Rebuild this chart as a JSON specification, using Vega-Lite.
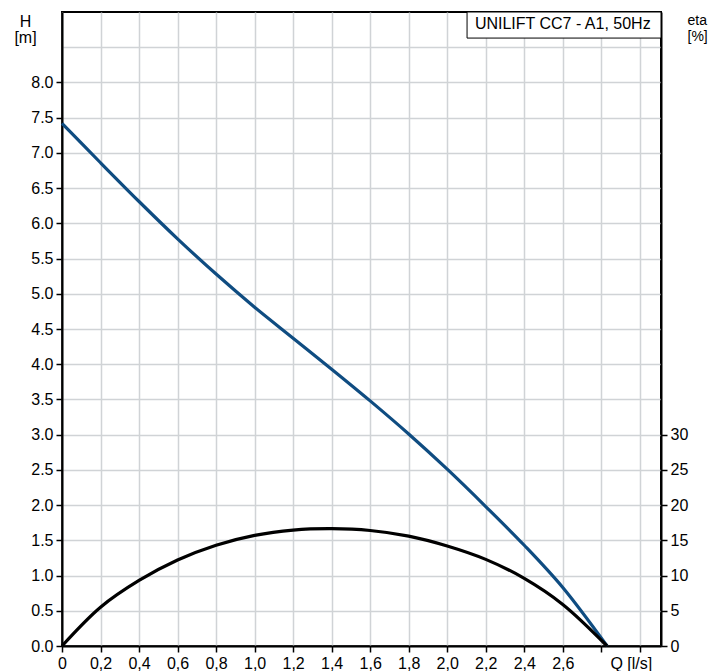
{
  "$schema": "https://vega.github.io/schema/vega-lite/v6.json",
  "autosize": {"type": "none"},
  "width": 599,
  "height": 634,
  "padding": {"left": 62, "top": 12, "right": 49, "bottom": 25},
  "background": "white",
  "datasets": {
    "head": [
      {"Q": 0, "H": 7.42}, {"Q": 0.2, "H": 6.86}, {"Q": 0.4, "H": 6.31},
      {"Q": 0.6, "H": 5.78}, {"Q": 0.8, "H": 5.28}, {"Q": 1.0, "H": 4.81},
      {"Q": 1.2, "H": 4.37}, {"Q": 1.4, "H": 3.93}, {"Q": 1.6, "H": 3.48},
      {"Q": 1.8, "H": 3.01}, {"Q": 2.0, "H": 2.51}, {"Q": 2.2, "H": 1.98},
      {"Q": 2.4, "H": 1.43}, {"Q": 2.6, "H": 0.83}, {"Q": 2.83, "H": 0}
    ],
    "eta": [
      {"Q": 0, "eta": 0}, {"Q": 0.2, "eta": 5.5},
      {"Q": 0.4, "eta": 9.3}, {"Q": 0.6, "eta": 12.2}, {"Q": 0.8, "eta": 14.3},
      {"Q": 1.0, "eta": 15.7}, {"Q": 1.2, "eta": 16.45}, {"Q": 1.4, "eta": 16.65},
      {"Q": 1.6, "eta": 16.4}, {"Q": 1.8, "eta": 15.6}, {"Q": 2.0, "eta": 14.2},
      {"Q": 2.2, "eta": 12.3}, {"Q": 2.4, "eta": 9.6}, {"Q": 2.6, "eta": 5.9},
      {"Q": 2.83, "eta": 0}
    ],
    "caption": [{"label": "UNILIFT CC7 - A1, 50Hz"}]
  },
  "layer": [
    {
      "layer": [
        {
          "data": {"name": "head"},
          "mark": {"type": "line", "color": "#0f4c81", "strokeWidth": 3.2, "interpolate": "catmull-rom"},
          "encoding": {
            "x": {
              "field": "Q", "type": "quantitative",
              "scale": {"domain": [0, 3.11], "nice": false, "zero": false},
              "axis": {
                "values": [0, 0.2, 0.4, 0.6, 0.8, 1.0, 1.2, 1.4, 1.6, 1.8, 2.0, 2.2, 2.4, 2.6, 2.8, 3.0],
                "labelExpr": "datum.value > 2.9 ? 'Q [l/s]' : datum.value > 2.7 ? '' : datum.value == 0 ? '0' : replace(format(datum.value, '.1f'), '.', ',')",
                "labelOffset": {"condition": {"test": "datum.value > 2.9", "value": -9}, "value": 0},
                "title": null
              }
            },
            "y": {
              "field": "H", "type": "quantitative",
              "scale": {"domain": [0, 9], "nice": false},
              "axis": {
                "values": [0, 0.5, 1, 1.5, 2, 2.5, 3, 3.5, 4, 4.5, 5, 5.5, 6, 6.5, 7, 7.5, 8, 8.5],
                "labelExpr": "datum.value > 8.2 ? '' : format(datum.value, '.1f')",
                "tickOpacity": {"condition": {"test": "datum.value > 8.2", "value": 0}, "value": 1},
                "title": ["H", "[m]"],
                "titleAngle": 0,
                "titleAlign": "center",
                "titleBaseline": "top",
                "titleX": -37,
                "titleY": 1,
                "titleLineHeight": 16
              }
            }
          }
        },
        {
          "data": {"name": "caption"},
          "mark": {"type": "rect", "fill": "white", "stroke": "black", "strokeWidth": 1},
          "encoding": {
            "x": {
              "datum": 2.103, "type": "quantitative",
              "axis": {
                "values": [0, 0.2, 0.4, 0.6, 0.8, 1.0, 1.2, 1.4, 1.6, 1.8, 2.0, 2.2, 2.4, 2.6, 2.8, 3.0],
                "labelExpr": "datum.value > 2.9 ? 'Q [l/s]' : datum.value > 2.7 ? '' : datum.value == 0 ? '0' : replace(format(datum.value, '.1f'), '.', ',')",
                "labelOffset": {"condition": {"test": "datum.value > 2.9", "value": -9}, "value": 0},
                "title": null
              }
            },
            "x2": {"datum": 3.11},
            "y": {
              "datum": 8.63, "type": "quantitative",
              "axis": {
                "values": [0, 0.5, 1, 1.5, 2, 2.5, 3, 3.5, 4, 4.5, 5, 5.5, 6, 6.5, 7, 7.5, 8, 8.5],
                "labelExpr": "datum.value > 8.2 ? '' : format(datum.value, '.1f')",
                "tickOpacity": {"condition": {"test": "datum.value > 8.2", "value": 0}, "value": 1},
                "title": ["H", "[m]"],
                "titleAngle": 0,
                "titleAlign": "center",
                "titleBaseline": "top",
                "titleX": -37,
                "titleY": 1,
                "titleLineHeight": 16
              }
            },
            "y2": {"datum": 9}
          }
        },
        {
          "data": {"name": "caption"},
          "mark": {"type": "text", "font": "Liberation Sans", "fontSize": 16, "color": "black", "align": "center", "baseline": "alphabetic"},
          "encoding": {
            "x": {
              "datum": 2.6, "type": "quantitative",
              "axis": {
                "values": [0, 0.2, 0.4, 0.6, 0.8, 1.0, 1.2, 1.4, 1.6, 1.8, 2.0, 2.2, 2.4, 2.6, 2.8, 3.0],
                "labelExpr": "datum.value > 2.9 ? 'Q [l/s]' : datum.value > 2.7 ? '' : datum.value == 0 ? '0' : replace(format(datum.value, '.1f'), '.', ',')",
                "labelOffset": {"condition": {"test": "datum.value > 2.9", "value": -9}, "value": 0},
                "title": null
              }
            },
            "y": {
              "datum": 8.755, "type": "quantitative",
              "axis": {
                "values": [0, 0.5, 1, 1.5, 2, 2.5, 3, 3.5, 4, 4.5, 5, 5.5, 6, 6.5, 7, 7.5, 8, 8.5],
                "labelExpr": "datum.value > 8.2 ? '' : format(datum.value, '.1f')",
                "tickOpacity": {"condition": {"test": "datum.value > 8.2", "value": 0}, "value": 1},
                "title": ["H", "[m]"],
                "titleAngle": 0,
                "titleAlign": "center",
                "titleBaseline": "top",
                "titleX": -37,
                "titleY": 1,
                "titleLineHeight": 16
              }
            },
            "text": {"field": "label"}
          }
        }
      ]
    },
    {
      "data": {"name": "eta"},
      "mark": {"type": "line", "color": "black", "strokeWidth": 3.2, "interpolate": "catmull-rom"},
      "encoding": {
        "x": {
          "field": "Q", "type": "quantitative",
          "axis": {
            "values": [0, 0.2, 0.4, 0.6, 0.8, 1.0, 1.2, 1.4, 1.6, 1.8, 2.0, 2.2, 2.4, 2.6, 2.8, 3.0],
            "labelExpr": "datum.value > 2.9 ? 'Q [l/s]' : datum.value > 2.7 ? '' : datum.value == 0 ? '0' : replace(format(datum.value, '.1f'), '.', ',')",
            "labelOffset": {"condition": {"test": "datum.value > 2.9", "value": -9}, "value": 0},
            "title": null
          }
        },
        "y": {
          "field": "eta", "type": "quantitative",
          "scale": {"domain": [0, 90], "nice": false},
          "axis": {
            "orient": "right",
            "grid": false,
            "values": [0, 5, 10, 15, 20, 25, 30],
            "title": ["eta", "[%]"],
            "titleFontSize": 14,
            "titleAngle": 0,
            "titleAlign": "left",
            "titleBaseline": "top",
            "titleX": 26,
            "titleY": 1,
            "titleLineHeight": 16
          }
        }
      }
    }
  ],
  "resolve": {"scale": {"y": "independent"}},
  "config": {
    "view": {"stroke": "black", "strokeWidth": 2},
    "axis": {
      "grid": true,
      "gridColor": "#d0d3d6",
      "gridWidth": 1.5,
      "domainColor": "black",
      "domainWidth": 2,
      "tickColor": "black",
      "tickWidth": 1.5,
      "tickSize": 6,
      "labelPadding": 3,
      "labelFont": "Liberation Sans",
      "labelFontSize": 16,
      "labelColor": "black",
      "labelFlush": false,
      "labelOverlap": false,
      "titleFont": "Liberation Sans",
      "titleFontSize": 16,
      "titleFontWeight": "normal",
      "titleColor": "black"
    }
  }
}
